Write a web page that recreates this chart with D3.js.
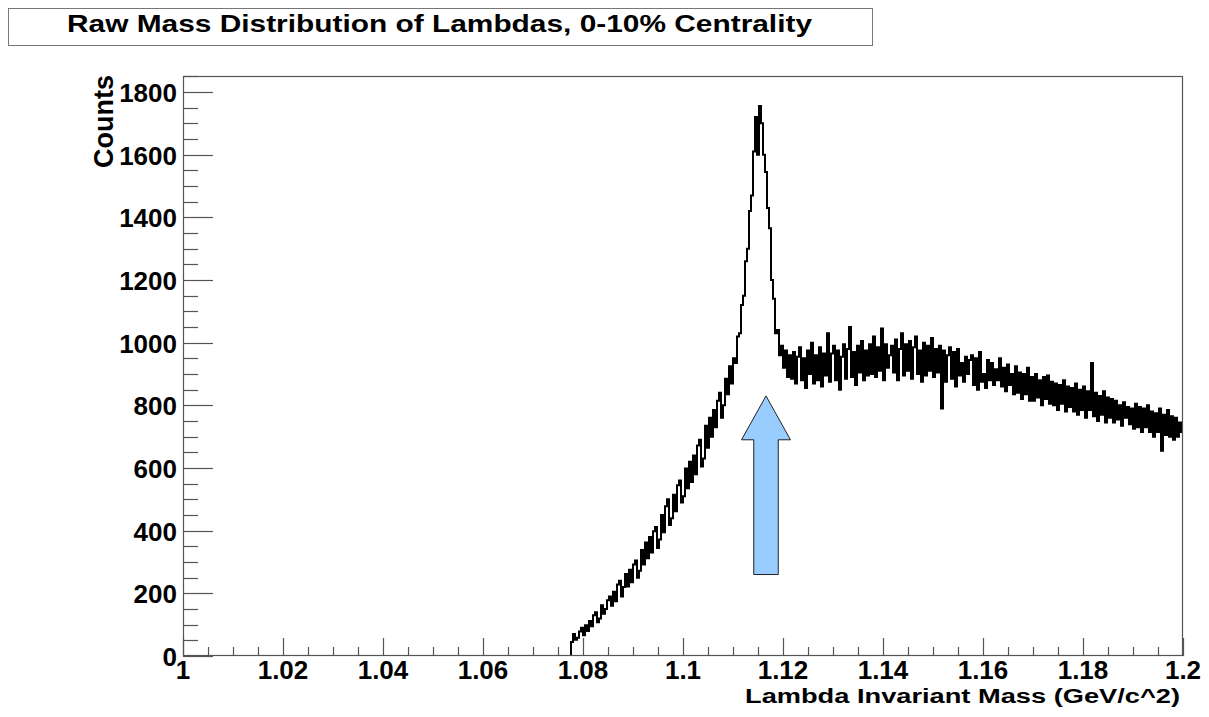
<!DOCTYPE html>
<html>
<head>
<meta charset="utf-8">
<script src="https://cdn.jsdelivr.net/npm/d3@7"></script>
<style>
  html, body { margin: 0; padding: 0; background: #fff; }
  svg { display: block; }
  text { font-family: "Liberation Sans", Arial, Helvetica, sans-serif; font-weight: bold; fill: #000; }
</style>
</head>
<body>
<svg id="chart" width="1209" height="717"></svg>
<script>
// ---- data ----
const titleText = "Raw Mass Distribution of Lambdas, 0-10% Centrality";
const xTitle = "Lambda Invariant Mass (GeV/c^2)";
const yTitle = "Counts";
const xTickValues = [1, 1.02, 1.04, 1.06, 1.08, 1.1, 1.12, 1.14, 1.16, 1.18, 1.2];
const xTickLabels = ["1", "1.02", "1.04", "1.06", "1.08", "1.1", "1.12", "1.14", "1.16", "1.18", "1.2"];
const yTickValues = [0, 200, 400, 600, 800, 1000, 1200, 1400, 1600, 1800];
const yTickLabels = ["0", "200", "400", "600", "800", "1000", "1200", "1400", "1600", "1800"];
const binStart = 1.0776;
const binWidth = 0.0004;
const counts = [
  45, 70, 52, 58, 78, 90, 66, 98, 80, 112,
  95, 130, 140, 108, 120, 162, 135, 150, 178, 190,
  160, 205, 175, 228, 240, 190, 220, 262, 222, 275,
  235, 292, 305, 250, 272, 338, 292, 362, 312, 380,
  330, 398, 412, 345, 372, 450, 395, 478, 500, 418,
  440, 515, 462, 545, 560, 490, 510, 598, 535, 620,
  555, 640, 580, 672, 690, 605, 630, 735, 665, 760,
  700, 785, 730, 815, 840, 760, 800, 885, 835, 925,
  870, 950, 935, 1020, 1030, 1120, 1150, 1260, 1300, 1420,
  1470, 1610, 1720, 1600, 1755, 1700, 1600, 1545, 1430, 1365,
  1200, 1140, 1030, 1040, 960, 990, 920, 975, 890, 960,
  885, 970, 870, 955, 985, 880, 950, 855, 975, 900,
  1000, 870, 960, 880, 985, 860, 965, 895, 1030, 875,
  965, 990, 880, 975, 850, 955, 995, 885, 980, 1050,
  890, 970, 865, 990, 905, 1005, 880, 975, 895, 995,
  900, 1020, 890, 985, 910, 1045, 880, 995, 920, 960,
  990, 905, 1010, 880, 980, 1030, 895, 995, 910, 1005,
  885, 985, 1020, 900, 975, 875, 1000, 895, 990, 910,
  1015, 890, 980, 905, 990, 790, 975, 875, 960, 985,
  885, 970, 860, 980, 895, 935, 875, 955, 900, 945,
  960, 865, 950, 850, 970, 875, 900, 855, 945, 880,
  935, 865, 915, 880, 950, 860, 920, 845, 930, 865,
  900, 835, 925, 840, 905, 820, 900, 835, 920, 815,
  890, 815, 900, 825, 880, 800, 890, 820, 895, 805,
  875, 800, 870, 785, 865, 805, 880, 780, 860, 795,
  855, 780, 870, 770, 850, 785, 860, 760, 845, 785,
  935, 765, 840, 750, 830, 770, 845, 745, 825, 760,
  820, 745, 815, 755, 800, 735, 810, 760, 795, 740,
  790, 725, 805, 730, 795, 715, 790, 730, 800, 715,
  780, 700, 775, 715, 790, 655, 770, 705, 785, 700,
  765, 690, 760, 700, 745, 715
];
// arrow annotation (data coordinates): tip, head base, shaft bottom
const arrowTip = [1.1166, 830];
const arrowHeadBase = 690;
const arrowHeadHalf = 0.0049;
const arrowShaftHalf = 0.00245;
const arrowBottom = 260;

// ---- layout ----
const svg = d3.select("#chart");
const frame = { left: 183, right: 1183, top: 76, bottom: 656 };
const x = d3.scaleLinear().domain([1, 1.2]).range([frame.left, frame.right]);
const y = d3.scaleLinear().domain([0, 1851]).range([frame.bottom, frame.top]);
const axisColor = "#555";

// title box
svg.append("rect").attr("x", 8.5).attr("y", 8.5).attr("width", 864).attr("height", 37)
  .attr("fill", "#fff").attr("stroke", "#777").attr("stroke-width", 1);
svg.append("text").attr("x", 67).attr("y", 31.5)
  .attr("font-size", 24).attr("textLength", 745).attr("lengthAdjust", "spacingAndGlyphs")
  .text(titleText);

// histogram
const clipId = "plotclip";
svg.append("clipPath").attr("id", clipId).append("rect")
  .attr("x", frame.left).attr("y", frame.top)
  .attr("width", frame.right - frame.left).attr("height", frame.bottom - frame.top);
const pts = [[binStart, 0]];
counts.forEach((c, i) => pts.push([binStart + i * binWidth, c]));
pts.push([binStart + counts.length * binWidth, counts[counts.length - 1]]);
const line = d3.line().x(d => x(d[0])).y(d => y(d[1])).curve(d3.curveStepAfter);
svg.append("path").attr("d", line(pts)).attr("fill", "none")
  .attr("stroke", "#000").attr("stroke-width", 2).attr("stroke-linejoin", "miter")
  .attr("clip-path", `url(#${clipId})`);

// frame
svg.append("rect").attr("x", frame.left + 0.5).attr("y", frame.top + 0.5)
  .attr("width", frame.right - frame.left - 1).attr("height", frame.bottom - frame.top - 1)
  .attr("fill", "none").attr("stroke", axisColor).attr("stroke-width", 1.2);

// y ticks
const yMinor = d3.range(0, 1851, 50);
svg.append("g").selectAll("line").data(yMinor).join("line")
  .attr("x1", frame.left).attr("x2", d => frame.left + (d % 200 === 0 ? 30 : 15))
  .attr("y1", d => Math.round(y(d)) + 0.5).attr("y2", d => Math.round(y(d)) + 0.5)
  .attr("stroke", axisColor).attr("stroke-width", 1.2);
svg.append("g").selectAll("text").data(yTickValues).join("text")
  .attr("x", 177).attr("y", d => y(d) + 10)
  .attr("text-anchor", "end").attr("font-size", 26)
  .text((d, i) => yTickLabels[i]);

// x ticks
const xMinor = d3.range(0, 41).map(i => 1 + i * 0.005);
svg.append("g").selectAll("line").data(xMinor).join("line")
  .attr("x1", d => Math.round(x(d)) + 0.5).attr("x2", d => Math.round(x(d)) + 0.5)
  .attr("y1", frame.bottom).attr("y2", (d, i) => frame.bottom - (i % 4 === 0 ? 18 : 9))
  .attr("stroke", axisColor).attr("stroke-width", 1.2);
svg.append("g").selectAll("text").data(xTickValues).join("text")
  .attr("x", d => x(d)).attr("y", 679)
  .attr("text-anchor", "middle").attr("font-size", 26)
  .text((d, i) => xTickLabels[i]);

// axis titles
svg.append("text").attr("x", 745).attr("y", 703)
  .attr("font-size", 20).attr("textLength", 435).attr("lengthAdjust", "spacingAndGlyphs")
  .text(xTitle);
svg.append("text").attr("transform", "translate(113,75) rotate(-90)")
  .attr("text-anchor", "end").attr("font-size", 27)
  .attr("textLength", 93).attr("lengthAdjust", "spacingAndGlyphs")
  .text(yTitle);

// arrow
const ax = arrowTip[0];
const arrowPts = [
  [ax, arrowTip[1]],
  [ax + arrowHeadHalf, arrowHeadBase],
  [ax + arrowShaftHalf, arrowHeadBase],
  [ax + arrowShaftHalf, arrowBottom],
  [ax - arrowShaftHalf, arrowBottom],
  [ax - arrowShaftHalf, arrowHeadBase],
  [ax - arrowHeadHalf, arrowHeadBase]
];
svg.append("path")
  .attr("d", d3.line().x(d => x(d[0])).y(d => y(d[1]))(arrowPts) + "Z")
  .attr("fill", "#99ccff").attr("stroke", "#222").attr("stroke-width", 1);
</script>
</body>
</html>
